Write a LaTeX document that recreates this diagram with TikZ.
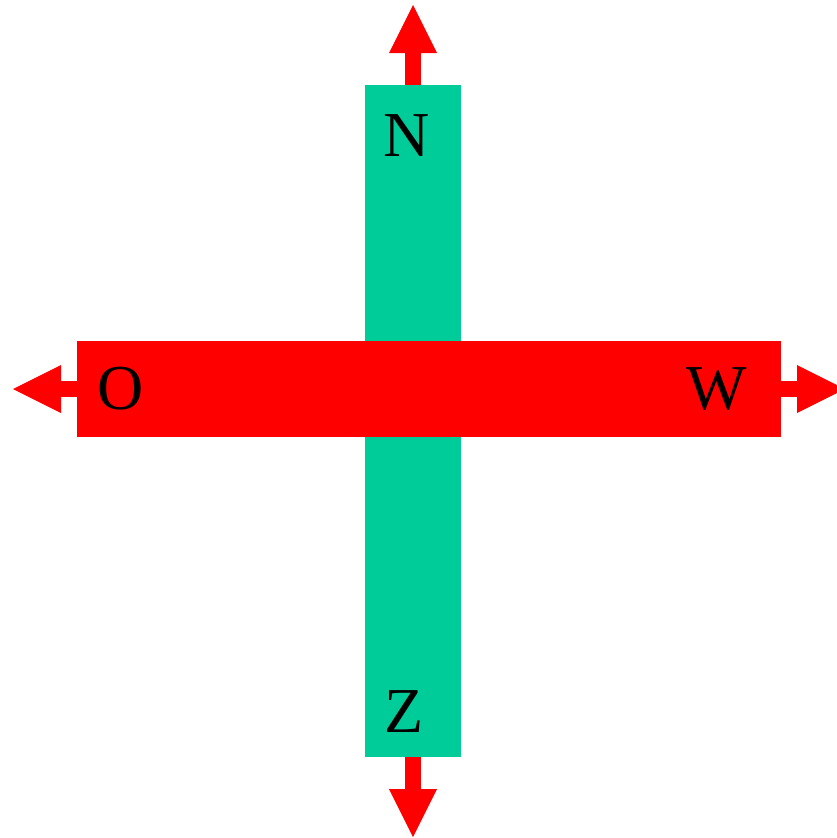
\documentclass[tikz,border=0pt]{standalone}
\usepackage{fontspec}
\setmainfont{Liberation Serif}
\usepackage{tikz}
\usetikzlibrary{arrows.meta, positioning}
\definecolor{bargreen}{RGB}{0,204,153}
\definecolor{barred}{RGB}{255,0,0}

\begin{document}
\begin{tikzpicture}[
        x=1pt, y=-1pt,
        bar/.style={rectangle, inner sep=0pt, outer sep=0pt},
        lbl/.style={inner sep=0pt, font=\fontsize{64}{70}\selectfont},
        arrow/.style={-{Triangle[width=48pt, length=48pt, line width=0pt]}, line width=16pt, draw=barred}
    ]
    \useasboundingbox (0,0) rectangle (836,838);
    \node[bar, fill=bargreen, minimum width=96pt, minimum height=672pt] (vbar) at (413,421) {};
    \node[bar, fill=barred, minimum width=704pt, minimum height=96pt] (hbar) at (429,389) {};
    \node[lbl, below=29pt of vbar.north, xshift=-6pt] (north) {N};
    \node[lbl, above=24pt of vbar.south, xshift=-9pt] (south) {Z};
    \node[lbl, right=20pt of hbar.west] (west) {O};
    \node[lbl, left=34pt of hbar.east] (east) {W};
    \coordinate (ntip) at (413,5);
    \coordinate (stip) at (413,837);
    \coordinate (wtip) at (13,389);
    \coordinate (etip) at (845,389);
    \draw[arrow] (vbar.north) -- (ntip);
    \draw[arrow] (vbar.south) -- (stip);
    \draw[arrow] (hbar.west) -- (wtip);
    \draw[arrow] (hbar.east) -- (etip);
\end{tikzpicture}
\end{document}
